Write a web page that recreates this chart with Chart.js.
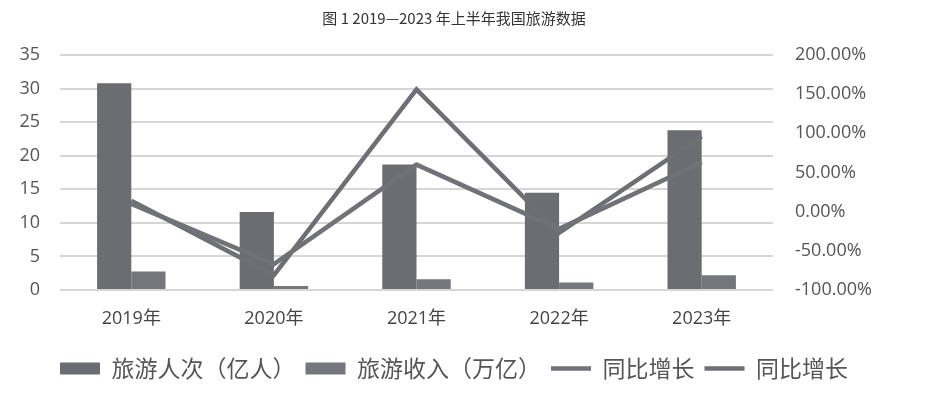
<!DOCTYPE html>
<html><head><meta charset="utf-8">
<script src="https://cdn.jsdelivr.net/npm/chart.js@4/dist/chart.umd.min.js"></script>
<style>html,body{margin:0;padding:0;background:#fff}#wrap{width:932px;height:394px}</style>
</head><body><div id="wrap"><canvas id="c" width="932" height="394"></canvas></div>
<script>
const categories = ['2019年','2020年','2021年','2022年','2023年'];
const visitors = [30.8, 11.6, 18.7, 14.5, 23.8];      // 旅游人次（亿人）
const revenue = [2.75, 0.6, 1.6, 1.1, 2.2];          // 旅游收入（万亿）
const growthA = [10, -67, 60, -22, 63];              // 同比增长 (%)
const growthB = [14, -81, 156, -27, 96];             // 同比增长 (%)
const leftTicks = [0, 35, 5];
const rightTicks = [-100, 200, 50];
const titleText = '图 1 2019—2023 年上半年我国旅游数据';

const tickFont = {family: "'Open Sans','Noto Sans CJK SC'", size: 18};
new Chart(document.getElementById('c'), {
  data: {
    labels: categories,
    datasets: [
      {type:'bar', label:'旅游人次（亿人）', data: visitors, yAxisID:'y', backgroundColor:'#6c6d72', order:2, pointStyle:'rect', categoryPercentage:0.48, barPercentage:1},
      {type:'bar', label:'旅游收入（万亿）', data: revenue, yAxisID:'y', backgroundColor:'#76777c', order:2, pointStyle:'rect', categoryPercentage:0.48, barPercentage:1},
      {type:'line', label:'同比增长', data: growthA, yAxisID:'y1', borderColor:'#717277', backgroundColor:'#717277', borderWidth:4.5, pointRadius:0, order:1, pointStyle:'line', tension:0},
      {type:'line', label:'同比增长', data: growthB, yAxisID:'y1', borderColor:'#6e6f74', backgroundColor:'#6e6f74', borderWidth:4.5, pointRadius:0, order:1, pointStyle:'line', tension:0}
    ]
  },
  options: {
    responsive:false, animation:false, devicePixelRatio:1,
    layout:{padding:{left:0,right:24,top:0,bottom:4}},
    plugins:{
      tooltip:{enabled:false},
      title:{display:true, text:titleText, color:'#333', font:{family:"'Noto Sans CJK SC'", size:15, weight:'normal'}, padding:{top:9,bottom:28}},
      legend:{position:'bottom', labels:{usePointStyle:true, pointStyleWidth:40, boxHeight:12, padding:10, color:'#555', font:{family:"'Noto Sans CJK SC'", size:23},
        sort:(a,b)=>a.datasetIndex-b.datasetIndex}}
    },
    scales:{
      x:{grid:{display:false, drawTicks:false}, border:{display:false}, ticks:{color:'#444', font:tickFont, padding:18},
         afterFit:(s)=>{s.height=57;}},
      y:{position:'left', min:leftTicks[0], max:leftTicks[1], ticks:{stepSize:leftTicks[2], color:'#555', font:tickFont, padding:20},
         grid:{color:'#d6d6d6', lineWidth:2, drawTicks:false}, border:{display:false},
         afterFit:(s)=>{s.width=60;}},
      y1:{position:'right', min:rightTicks[0], max:rightTicks[1], ticks:{stepSize:rightTicks[2], color:'#555', font:tickFont, padding:22, callback:(v)=>v.toFixed(2)+'%'},
         grid:{display:false, drawTicks:false}, border:{display:false},
         afterFit:(s)=>{s.width=135;}}
    }
  }
});
</script></body></html>
